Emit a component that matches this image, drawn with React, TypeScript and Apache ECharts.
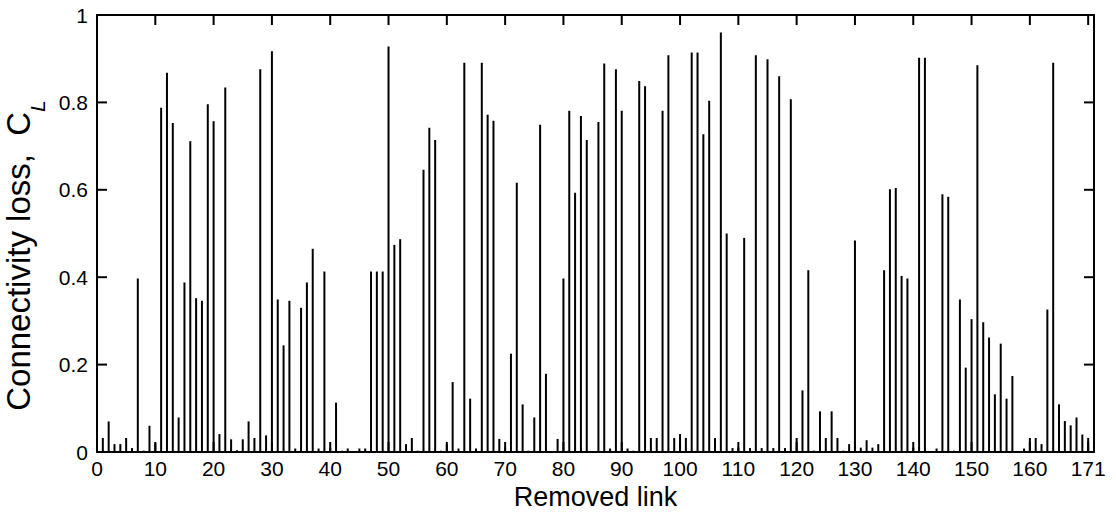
import React, { useEffect, useRef } from "react";
import * as echarts from "echarts";

// Connectivity loss C_L for each removed link (1..171)
const lossValues: number[] = [
  0.032, 0.07, 0.018, 0.018, 0.032, 0.009, 0.397, 0.003, 0.06, 0.02,
  0.788, 0.868, 0.753, 0.079, 0.388, 0.711, 0.352, 0.346, 0.796, 0.757,
  0.041, 0.834, 0.029, 0.004, 0.029, 0.07, 0.032, 0.876, 0.038, 0.917,
  0.349, 0.244, 0.346, 0.008, 0.33, 0.388, 0.465, 0.008, 0.413, 0.01,
  0.113, 0.003, 0.008, 0.0, 0.008, 0.008, 0.413, 0.413, 0.413, 0.928,
  0.474, 0.487, 0.018, 0.032, 0.003, 0.646, 0.742, 0.714, 0.003, 0.017,
  0.16, 0.008, 0.891, 0.122, 0.008, 0.891, 0.772, 0.758, 0.03, 0.01,
  0.225, 0.616, 0.109, 0.003, 0.079, 0.749, 0.179, 0.0, 0.03, 0.397,
  0.781, 0.593, 0.769, 0.714, 0.0, 0.755, 0.889, 0.008, 0.876, 0.781,
  0.008, 0.003, 0.849, 0.837, 0.032, 0.032, 0.781, 0.908, 0.032, 0.041,
  0.032, 0.914, 0.914, 0.727, 0.804, 0.032, 0.96, 0.5, 0.009, 0.01,
  0.49, 0.009, 0.908, 0.009, 0.899, 0.009, 0.86, 0.009, 0.807, 0.032,
  0.141, 0.416, 0.003, 0.093, 0.032, 0.093, 0.032, 0.003, 0.018, 0.484,
  0.01, 0.027, 0.01, 0.018, 0.416, 0.601, 0.604, 0.403, 0.397, 0.01,
  0.902, 0.902, 0.0, 0.008, 0.59, 0.584, 0.003, 0.349, 0.193, 0.304,
  0.885, 0.297, 0.262, 0.132, 0.248, 0.122, 0.174, 0.0, 0.008, 0.032,
  0.032, 0.018, 0.326, 0.891, 0.109, 0.071, 0.061, 0.079, 0.04, 0.032,
  0.052,
];

const linkIds: number[] = lossValues.map((_, i) => i + 1);

// tick positions and their labels
const xTicks: number[] = [0, 10, 20, 30, 40, 50, 60, 70, 80, 90, 100, 110, 120, 130, 140, 150, 160, 170];
const xTickLabels: Record<number, string> = { 170: "171", 171: "" };
const yTicks: number[] = [0, 0.2, 0.4, 0.6, 0.8, 1];

const X_MAX = 171;
const FONT = "Liberation Sans, Arial, sans-serif";

export default function App() {
  const ref = useRef<HTMLDivElement>(null);

  useEffect(() => {
    if (!ref.current) return;
    const chart = echarts.init(ref.current, undefined, { renderer: "svg" });
    const mkLine = () => ({ show: true, onZero: false, lineStyle: { color: "#000", width: 2 } });
    const mkTick = () => ({ show: false });
    const TL = 10;

    const tickData = [
      ...xTicks.map((v) => [v, 0, 0]),
      ...yTicks.map((v) => [0, v, 1]),
    ];

    chart.setOption({
      animation: false,
      backgroundColor: "#fff",
      grid: {
        left: 97,
        right: 22,
        top: 15,
        bottom: 67,
        containLabel: false,
        outerBoundsMode: "none",
      },
      xAxis: [
        {
          type: "value",
          min: 0,
          max: X_MAX,
          interval: 10,
          position: "bottom",
          axisLine: mkLine(),
          axisTick: mkTick(),
          splitLine: { show: false },
          axisLabel: {
            color: "#000",
            fontFamily: FONT,
            fontSize: 21,
            margin: 6,
            formatter: (v: number) => (v in xTickLabels ? xTickLabels[v] : String(v)),
          },
          name: "Removed link",
          nameLocation: "middle",
          nameGap: 29,
          nameTextStyle: { color: "#000", fontFamily: FONT, fontSize: 27 },
        },
        {
          type: "value",
          min: 0,
          max: X_MAX,
          interval: 10,
          position: "top",
          axisLine: mkLine(),
          axisTick: mkTick(),
          splitLine: { show: false },
          axisLabel: { show: false },
        },
      ],
      yAxis: [
        {
          type: "value",
          min: 0,
          max: 1,
          interval: 0.2,
          position: "left",
          axisLine: mkLine(),
          axisTick: mkTick(),
          splitLine: { show: false },
          axisLabel: {
            color: "#000",
            fontFamily: FONT,
            fontSize: 21,
            margin: 9,
            formatter: (v: number) => {
              const t = yTicks.find((y) => Math.abs(y - v) < 1e-9);
              return t === undefined ? "" : String(t);
            },
          },
          name: "{a|Connectivity loss,  C}{b|L}",
          nameLocation: "middle",
          nameRotate: 90,
          nameGap: 45,
          nameTextStyle: {
            color: "#000",
            fontFamily: FONT,
            padding: [0, 44, 0, 0],
            rich: {
              a: { fontSize: 33, fontFamily: FONT, color: "#000", lineHeight: 46, verticalAlign: "top" },
              b: {
                fontSize: 21,
                fontFamily: FONT,
                fontStyle: "italic",
                color: "#000",
                lineHeight: 20,
                verticalAlign: "bottom",
              },
            },
          },
        },
        {
          type: "value",
          min: 0,
          max: 1,
          interval: 0.2,
          position: "right",
          axisLine: mkLine(),
          axisTick: mkTick(),
          splitLine: { show: false },
          axisLabel: { show: false },
        },
      ],
      series: [
        {
          type: "bar",
          xAxisIndex: 0,
          yAxisIndex: 0,
          barWidth: 2,
          itemStyle: { color: "#000" },
          data: linkIds.map((id, i) => [id, lossValues[i]]),
        },
        {
          // inward tick marks on all four sides of the box
          type: "custom",
          xAxisIndex: 0,
          yAxisIndex: 0,
          clip: false,
          silent: true,
          z: 5,
          data: tickData,
          renderItem: (params: any, api: any) => {
            const kind = api.value(2);
            const style = { stroke: "#000", lineWidth: 2, fill: null };
            if (kind === 0) {
              const v = api.value(0);
              const b = api.coord([v, 0]);
              const t = api.coord([v, 1]);
              return {
                type: "group",
                children: [
                  { type: "line", shape: { x1: b[0], y1: b[1], x2: b[0], y2: b[1] - TL }, style },
                  { type: "line", shape: { x1: t[0], y1: t[1], x2: t[0], y2: t[1] + TL }, style },
                ],
              };
            }
            const v = api.value(1);
            const l = api.coord([0, v]);
            const r = api.coord([X_MAX, v]);
            return {
              type: "group",
              children: [
                { type: "line", shape: { x1: l[0], y1: l[1], x2: l[0] + TL, y2: l[1] }, style },
                { type: "line", shape: { x1: r[0], y1: r[1], x2: r[0] - TL, y2: r[1] }, style },
              ],
            };
          },
        },
      ],
    });
    return () => chart.dispose();
  }, []);

  return (
    <div
      ref={ref}
      style={{ position: "fixed", left: 0, top: 0, width: 1116, height: 519, background: "#fff" }}
    />
  );
}
